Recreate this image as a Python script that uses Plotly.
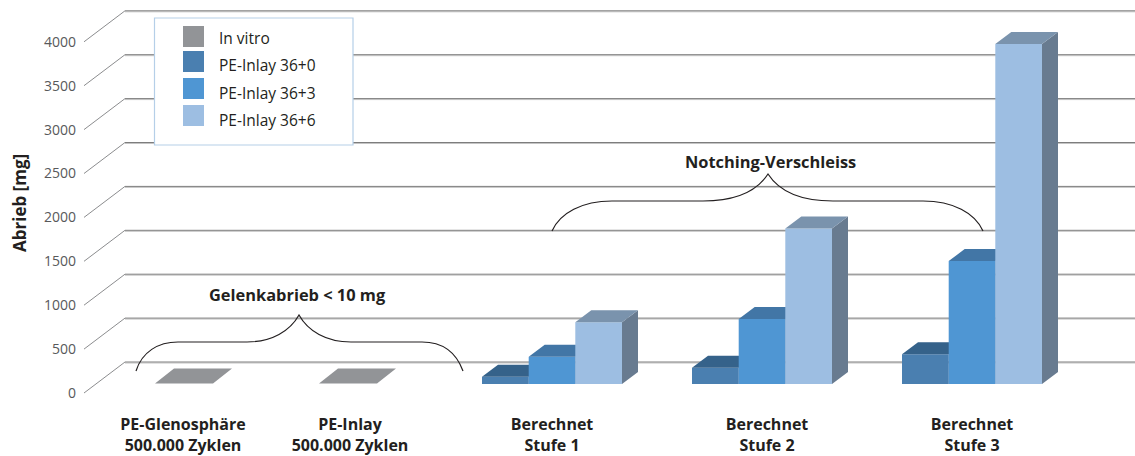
import plotly.graph_objects as go

# ---------- data ----------
categories = ["PE-Glenosphäre<br>500.000 Zyklen", "PE-Inlay<br>500.000 Zyklen",
              "Berechnet<br>Stufe 1", "Berechnet<br>Stufe 2", "Berechnet<br>Stufe 3"]
in_vitro = [5, 5, None, None, None]
inlay_0 = [None, None, 83, 186, 340]
inlay_3 = [None, None, 311, 740, 1400]
inlay_6 = [None, None, 703, 1770, 3872]
tick_values = [0, 500, 1000, 1500, 2000, 2500, 3000, 3500, 4000]

# ---------- layout constants (pixels of the 1135x456 page) ----------
W, H = 1135, 456
LEFT, BOTTOM = 77, 43
BASE_PX = 384
PX_PER_MG = 43.9 / 500


def mg(px_y):
    return (BASE_PX - px_y) / PX_PER_MG


def dmg(px):
    return px / PX_PER_MG


bar_centers = [184, 348, 552, 762, 972]
label_centers = [183, 350, 552, 767, 972]
FRONT_OFF, BACK_OFF = mg(393), mg(362)
WALL_FRONT_X, WALL_BACK_X, RIGHT_X = 84, 125, 1135

fig = go.Figure()

# wall: diagonals and grid lines
gx, gy, dx_, dy_ = [], [], [], []
for v in tick_values:
    gx += [WALL_BACK_X, RIGHT_X, None]
    gy += [v + BACK_OFF, v + BACK_OFF, None]
    dx_ += [WALL_FRONT_X, WALL_BACK_X, None]
    dy_ += [v + FRONT_OFF, v + BACK_OFF, None]
fig.add_trace(go.Scatter(x=gx, y=[None if a is None else a - dmg(1) for a in gy], mode="lines",
                         line=dict(color="#c4c4c4", width=1), hoverinfo="skip", showlegend=False))
fig.add_trace(go.Scatter(x=gx, y=gy, mode="lines", line=dict(color="#7d7d7d", width=1),
                         hoverinfo="skip", showlegend=False))
fig.add_trace(go.Scatter(x=dx_, y=dy_, mode="lines", line=dict(color="#6d6e71", width=0.8),
                         hoverinfo="skip", showlegend=False))


def add_face(xs, ys, color, name):
    fig.add_trace(go.Scatter(x=xs, y=ys, mode="lines", fill="toself", fillcolor=color,
                             line=dict(width=0, color=color), name=name,
                             hoverinfo="skip", showlegend=False))


def add_series(values, name, left, width, dpx, dpy, front, top, side):
    fx, fy, tx, ty, sx, sy = [], [], [], [], [], []
    dv = dmg(dpy)
    for center, v in zip(bar_centers, values):
        if v is None:
            continue
        x0 = center + left
        x1 = x0 + width
        fx += [x0, x1, x1, x0, x0, None]
        fy += [0, 0, v, v, 0, None]
        tx += [x0, x1, x1 + dpx, x0 + dpx, x0, None]
        ty += [v, v, v + dv, v + dv, v, None]
        sx += [x1, x1 + dpx, x1 + dpx, x1, x1, None]
        sy += [0, dv, v + dv, v, 0, None]
    add_face(sx, sy, side, name)
    add_face(fx, fy, front, name)
    add_face(tx, ty, top, name)


add_series(in_vitro, "In vitro", -29, 58, 19, 15, "#929497", "#929497", "#929497")
add_series(inlay_0, "PE-Inlay 36+0", -70, 46.7, 16, 12, "#4a7fb0", "#35628a", "#35628a")
add_series(inlay_3, "PE-Inlay 36+3", -23.3, 46.7, 16, 12, "#4f96d3", "#4276a6", "#3d6d9a")
add_series(inlay_6, "PE-Inlay 36+6", 23.3, 46.7, 16, 12, "#9dbee2", "#7a93ad", "#687b90")

TEXT = "#231f20"
FONT = "Open Sans"
shapes, annotations = [], []


# braces
def brace(pts):
    parts = [f"M{pts[0][0]},{mg(pts[0][1])}"]
    for i in range(1, len(pts), 3):
        parts.append("C" + " ".join(f"{x},{mg(y)}" for x, y in pts[i:i + 3]))
    return dict(type="path", xref="x", yref="y", path=" ".join(parts),
                line=dict(color="#231f20", width=1.2), layer="above")


shapes.append(brace([(136, 371), (142, 352), (158, 342), (178, 342),
                     (178, 342), (247, 342), (247, 342),
                     (272, 342), (290, 331), (299, 315),
                     (308, 331), (326, 342), (351, 342),
                     (351, 342), (422, 342), (422, 342),
                     (442, 342), (456, 352), (463, 371)]))
shapes.append(brace([(552, 231), (560, 213), (582, 201), (612, 201),
                     (612, 201), (703, 201), (703, 201),
                     (735, 201), (757, 191), (768, 174),
                     (779, 191), (801, 201), (833, 201),
                     (833, 201), (923, 201), (923, 201),
                     (953, 201), (975, 213), (983, 231)]))

for text, x, y in [("Gelenkabrieb &lt; 10 mg", 297, 294), ("Notching-Verschleiss", 770, 161)]:
    annotations.append(dict(text=f"<b>{text}</b>", x=x, y=mg(y), xref="x", yref="y", showarrow=False,
                            font=dict(family=FONT, size=16.4, color=TEXT)))

# y axis title
annotations.append(dict(text="<b>Abrieb [mg]</b>", x=(19 - LEFT) / (W - LEFT), y=mg(203),
                        xref="paper", yref="y", xanchor="center", yanchor="middle",
                        showarrow=False, textangle=-90,
                        font=dict(family=FONT, size=17, color=TEXT)))

# legend box
shapes.append(dict(type="rect", xref="x", yref="y", x0=154.5, x1=353, y0=mg(18), y1=mg(145),
                   fillcolor="white", line=dict(color="#b5cfe8", width=1.2), layer="above"))
for (name, color), top, text_y in zip([("In vitro", "#929497"), ("PE-Inlay 36+0", "#4a7fb0"),
                                       ("PE-Inlay 36+3", "#4f96d3"), ("PE-Inlay 36+6", "#9dbee2")],
                                      [26, 51, 78, 105], [38, 65, 93, 120]):
    shapes.append(dict(type="rect", xref="x", yref="y", x0=183, x1=204, y0=mg(top), y1=mg(top + 21),
                       fillcolor=color, line=dict(width=0), layer="above"))
    annotations.append(dict(text=name, x=217, y=mg(text_y), xref="x", yref="y", xanchor="left",
                            showarrow=False, font=dict(family=FONT, size=15.5, color=TEXT)))

fig.update_layout(
    width=W, height=H, autosize=False,
    margin=dict(l=LEFT, r=0, t=0, b=BOTTOM, pad=0),
    paper_bgcolor="white", plot_bgcolor="white", showlegend=False,
    font=dict(family=FONT, color=TEXT),
    shapes=shapes, annotations=annotations,
    xaxis=dict(range=[LEFT, W], tickmode="array", tickvals=label_centers,
               ticktext=[f"<b>{c.replace('<br>', '</b><br><b>')}</b>" for c in categories],
               showgrid=False, zeroline=False, showline=False, ticks="", automargin=False,
               tickfont=dict(family=FONT, size=16, color=TEXT)),
    yaxis=dict(range=[mg(H - BOTTOM), mg(0)], tickmode="array",
               tickvals=[v + FRONT_OFF for v in tick_values], ticktext=[str(v) for v in tick_values],
               showgrid=False, zeroline=False, showline=False, ticks="", automargin=False,
               tickfont=dict(family=FONT, size=14, color="#58595b")),
)

fig.write_html("out.html", config={"displayModeBar": False},
               post_script="document.body.style.margin='0';document.body.style.overflow='hidden';")
